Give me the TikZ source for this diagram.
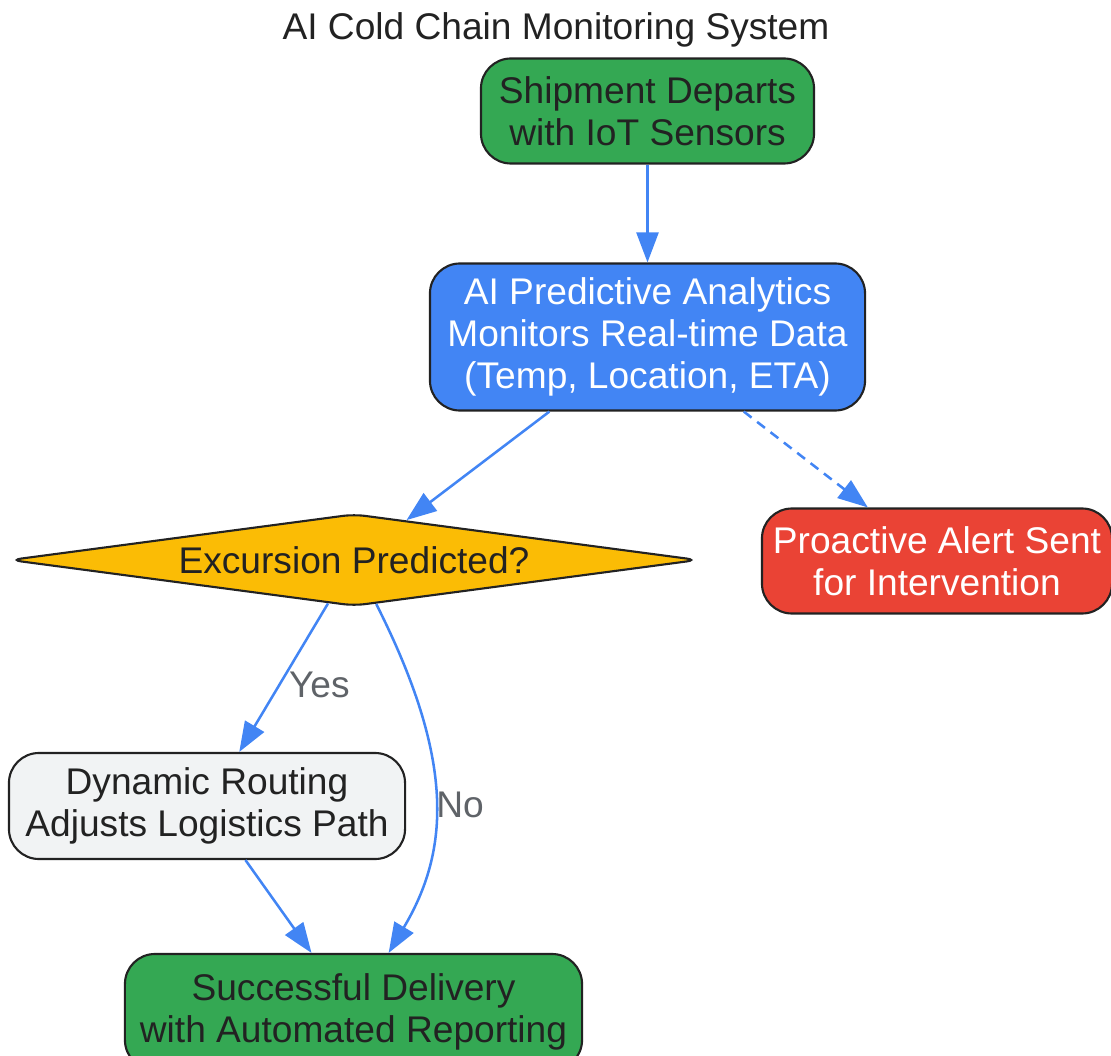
\documentclass[tikz,border=0pt]{standalone}
\usepackage{fontspec}
\setmainfont{Liberation Sans}
\usetikzlibrary{shapes.geometric, arrows.meta}
\definecolor{inkc}{HTML}{222222}
\definecolor{flowc}{HTML}{4285F4}
\definecolor{lblc}{HTML}{5F6368}
\definecolor{okgreen}{HTML}{34A853}
\definecolor{aiblue}{HTML}{4285F4}
\definecolor{askyellow}{HTML}{FBBC05}
\definecolor{alertred}{HTML}{EA4335}
\definecolor{routegray}{HTML}{F1F3F4}

\begin{document}
\begin{tikzpicture}[x=0.025cm, y=-0.025cm]
    \tikzset{
        box/.style={draw=inkc, line width=1.5pt, rounded corners=0.75cm,
            align=center, inner sep=0pt, text=inkc,
            font=\fontsize{26.4}{29.9}\selectfont},
        flow/.style={draw=flowc, line width=1.8pt,
            -{Triangle[length=0.75cm, width=0.55cm]}},
        lbl/.style={text=lblc, inner sep=0pt,
            font=\fontsize{26.4}{29.9}\selectfont},
    }
    \useasboundingbox (0,0) rectangle (1111,1056);
    % title
    \node[text=inkc, font=\fontsize{26.4}{29.9}\selectfont] (title)
        at (556,30) {AI Cold Chain Monitoring System};
    % the boxes
    \node[box, fill=okgreen, minimum width=8.325cm, minimum height=2.625cm]
        (start) at (647.5,111) {Shipment Departs\\with IoT Sensors};
    \node[box, fill=aiblue, text=white, minimum width=10.875cm,
        minimum height=3.675cm] (ai) at (647.5,337)
        {AI Predictive Analytics\\Monitors Real-time Data\\(Temp, Location, ETA)};
    \node[box, diamond, aspect=7.58, rounded corners=8pt, fill=askyellow,
        minimum width=17.2cm, minimum height=2.3cm] (dec) at (354,560)
        {Excursion Predicted?};
    \node[box, fill=alertred, text=white, minimum width=8.75cm,
        minimum height=2.625cm] (alert) at (937,561)
        {Proactive Alert Sent\\for Intervention};
    \node[box, fill=routegray, minimum width=9.9cm, minimum height=2.65cm]
        (route) at (207,806) {Dynamic Routing\\Adjusts Logistics Path};
    \node[box, fill=okgreen, minimum width=11.425cm, minimum height=2.9cm]
        (done) at (353.5,1012) {Successful Delivery\\with Automated Reporting};
    % connectors
    \draw[flow] (start) -- (ai);
    \draw[flow] (ai) -- (dec);
    \draw[flow, dash pattern=on 7pt off 5pt] (ai) -- (alert);
    \draw[flow] (dec) -- node[lbl, pos=0.5, anchor=west, xshift=3pt, yshift=-5pt] {Yes} (route);
    \draw[flow] (dec) .. controls (455,760) and (450,850) .. (done)
        node[lbl, pos=0.5, anchor=west, xshift=0pt, yshift=-5pt] {No};
    \draw[flow] (route) -- (done);
\end{tikzpicture}
\end{document}
